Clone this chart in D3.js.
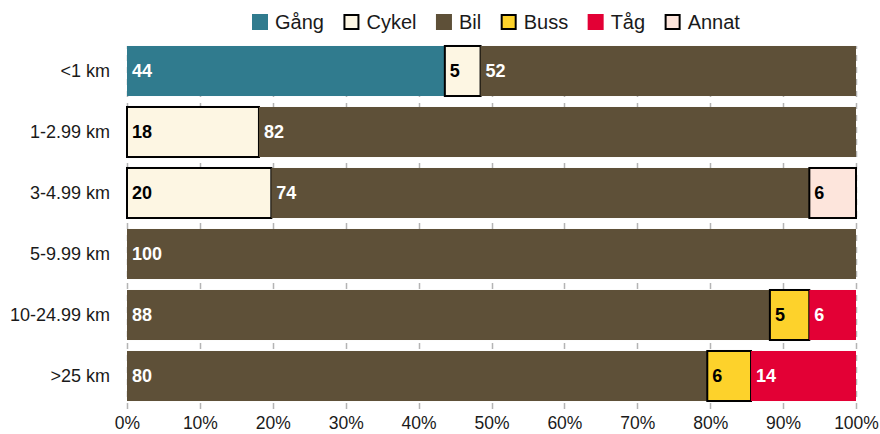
<!DOCTYPE html>
<html>
<head>
<meta charset="utf-8">
<script src="https://cdn.jsdelivr.net/npm/d3@7"></script>
<style>
  body { margin: 0; background: #fff; }
  svg { font-family: Arial, "Liberation Sans", sans-serif; }
</style>
</head>
<body>
<div class="canvas"></div>
<script>
// distance bands (rows) and travel modes (stack series)
const categories = ['<1 km', '1-2.99 km', '3-4.99 km', '5-9.99 km', '10-24.99 km', '>25 km'];
const modes = ['Gång', 'Cykel', 'Bil', 'Buss', 'Tåg', 'Annat'];

// share per mode, one entry per category (labels are rounded)
const gang  = [43.6, 0, 0, 0, 0, 0];
const cykel = [4.9, 18.1, 19.8, 0, 0, 0];
const bil   = [51.5, 81.9, 73.8, 100, 88.1, 79.6];
const buss  = [0, 0, 0, 0, 5.4, 6.0];
const tag   = [0, 0, 0, 0, 6.4, 14.4];
const annat = [0, 0, 6.4, 0, 0, 0];

const tickLabels = ['0%', '10%', '20%', '30%', '40%', '50%', '60%', '70%', '80%', '90%', '100%'];

const colors = { 'Gång': '#307b8e', 'Cykel': '#fdf6e3', 'Bil': '#5e5038', 'Buss': '#fdd22b', 'Tåg': '#e30035', 'Annat': '#fde5dc' };
const outlined = ['Cykel', 'Buss', 'Annat']; // light fills get a black border
const darkText = ['Cykel', 'Buss', 'Annat'];

const width = 880, height = 434;
const margin = { left: 127, right: 24 };

// build table rows for d3.stack
const series = [gang, cykel, bil, buss, tag, annat];
const table = categories.map((c, i) => {
    const row = { cat: c };
    modes.forEach((m, j) => { row[m] = series[j][i]; });
    return row;
});

const stack = d3.stack()
    .keys(modes)
    .offset(d3.stackOffsetExpand); // bars always fill to 100%
const stacked = stack(table);

const svg = d3.select('.canvas')
    .append('svg')
    .attr('width', width)
    .attr('height', height);

const x = d3.scaleLinear()
    .domain([0, 1])
    .range([margin.left, width - margin.right]);

const y = d3.scaleBand()
    .domain(categories)
    .range([40.5, 406.5])
    .paddingInner(0.18)
    .paddingOuter(0.09);

// dashed vertical gridlines, behind the bars
svg.append('g')
    .selectAll('line')
    .data(d3.range(0, 1.0001, 0.1))
    .join('line')
    .attr('x1', d => Math.round(x(d)) + 0.5)
    .attr('x2', d => Math.round(x(d)) + 0.5)
    .attr('y1', 46)
    .attr('y2', 409)
    .attr('stroke', '#b4b4b4')
    .attr('stroke-width', 1.5)
    .attr('stroke-dasharray', '6,6')
    .attr('stroke-dashoffset', 3);

// x tick labels
const xAxis = d3.axisBottom(x)
    .tickValues(d3.range(0, 11).map(i => i / 10))
    .tickFormat((d, i) => tickLabels[i])
    .tickSize(0)
    .tickPadding(0);

const xg = svg.append('g')
    .attr('transform', 'translate(0, 416.5)')
    .call(xAxis);
xg.select('.domain').remove();
xg.selectAll('text')
    .attr('font-size', '17.5px')
    .attr('font-family', 'Arial, "Liberation Sans", sans-serif')
    .attr('fill', '#1a1a1a');

// category labels
const yAxis = d3.axisLeft(y).tickSize(0).tickPadding(17);
const yg = svg.append('g')
    .attr('transform', `translate(${margin.left}, 0)`)
    .call(yAxis);
yg.select('.domain').remove();
yg.selectAll('text')
    .attr('font-size', '18px')
    .attr('font-family', 'Arial, "Liberation Sans", sans-serif')
    .attr('fill', '#1a1a1a');

// bars
const groups = svg.append('g')
    .selectAll('g')
    .data(stacked)
    .join('g')
    .attr('fill', d => colors[d.key])
    .attr('stroke', d => outlined.includes(d.key) ? '#000' : 'none')
    .attr('stroke-width', 2);

groups.selectAll('rect')
    .data(d => d.map(v => ({ key: d.key, v })))
    .join('rect')
    .attr('x', d => x(d.v[0]))
    .attr('y', d => y(d.v.data.cat))
    .attr('width', d => x(d.v[1]) - x(d.v[0]))
    .attr('height', y.bandwidth());

// value labels
const labels = [];
stacked.forEach(s => {
    s.forEach(v => {
        const val = v.data[s.key];
        if (val > 0) labels.push({ key: s.key, val, x0: v[0], cat: v.data.cat });
    });
});

svg.append('g')
    .selectAll('text')
    .data(labels)
    .join('text')
    .attr('x', d => x(d.x0) + 5)
    .attr('y', d => y(d.cat) + y.bandwidth() / 2)
    .attr('dy', '0.35em')
    .attr('font-size', '18px')
    .attr('font-weight', 'bold')
    .attr('fill', d => darkText.includes(d.key) ? '#000' : '#fff')
    .text(d => Math.round(d.val));

// legend
const legend = svg.append('g').attr('transform', 'translate(252, 0)');
let lx = 0;
modes.forEach(m => {
    const item = legend.append('g').attr('transform', `translate(${lx}, 0)`);
    item.append('rect')
        .attr('x', outlined.includes(m) ? 1 : 0)
        .attr('y', outlined.includes(m) ? 15 : 14)
        .attr('width', outlined.includes(m) ? 14 : 16)
        .attr('height', outlined.includes(m) ? 14 : 16)
        .attr('fill', colors[m])
        .attr('stroke', outlined.includes(m) ? '#000' : 'none')
        .attr('stroke-width', 2);
    const t = item.append('text')
        .attr('x', 23)
        .attr('y', 29)
        .attr('font-size', '20px')
        .attr('fill', '#1a1a1a')
        .text(m);
    lx += 23 + t.node().getComputedTextLength() + 19.5;
});
</script>
</body>
</html>
